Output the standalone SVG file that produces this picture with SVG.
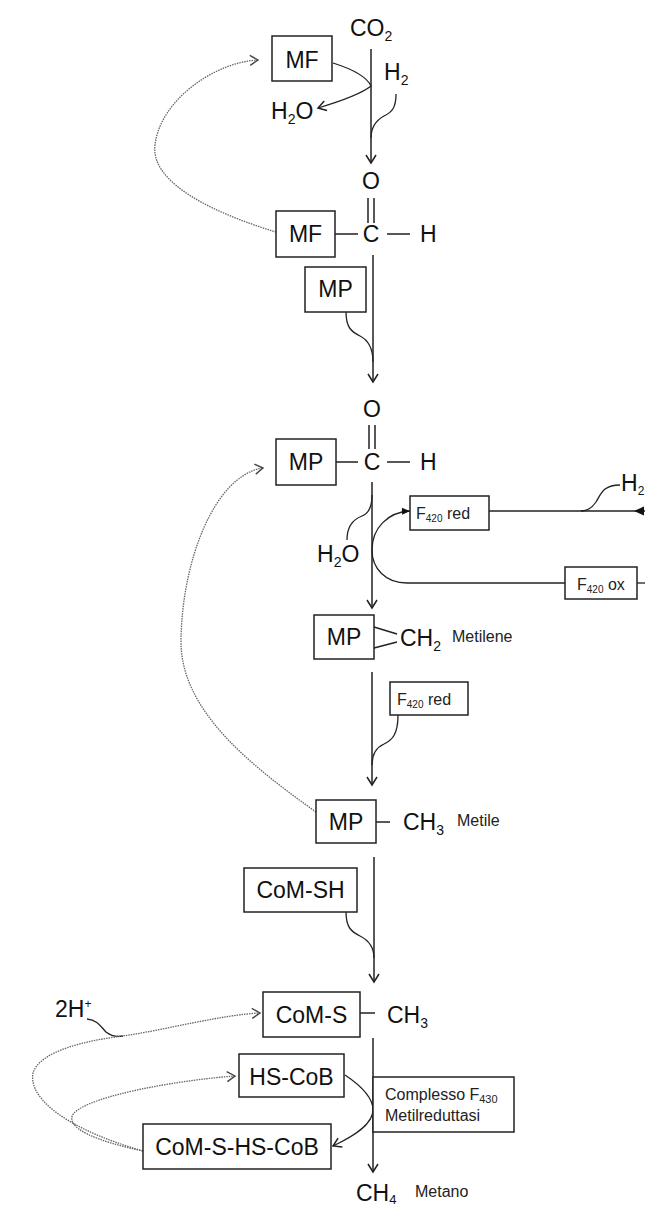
<svg xmlns="http://www.w3.org/2000/svg" width="645" height="1207" viewBox="0 0 645 1207">
<style>
.bx{fill:#fff;stroke:#222;stroke-width:1.5}
.ln{fill:none;stroke:#222;stroke-width:1.5}
.cv{fill:none;stroke:#222;stroke-width:1.3}
.dt{fill:none;stroke:#666;stroke-width:1.3;stroke-dasharray:1.5 1}
.t{font-family:"Liberation Sans",Arial,sans-serif;font-size:23px;fill:#111}
.s{font-family:"Liberation Sans",Arial,sans-serif;font-size:16px;fill:#222}
.m{text-anchor:middle}
</style>
<defs>
<marker id="op" markerUnits="userSpaceOnUse" markerWidth="14" markerHeight="14" refX="11" refY="7" orient="auto"><path d="M3,2 L11,7 L3,12" fill="none" stroke="#222" stroke-width="1.5"/></marker>
<marker id="og" markerUnits="userSpaceOnUse" markerWidth="14" markerHeight="14" refX="11" refY="7" orient="auto"><path d="M3,2 L11,7 L3,12" fill="none" stroke="#444" stroke-width="1.4"/></marker>
<marker id="fl" markerUnits="userSpaceOnUse" markerWidth="10" markerHeight="10" refX="9" refY="5" orient="auto"><path d="M1,1.5 L9,5 L1,8.5 Z" fill="#111"/></marker>
</defs>

<g id="connectors">
<!-- main vertical arrows -->
<path class="ln" d="M371,49 V163" marker-end="url(#op)"/>
<path class="ln" d="M373,255 V382" marker-end="url(#op)"/>
<path class="ln" d="M372,482 V608" marker-end="url(#op)"/>
<path class="ln" d="M372,672 V785" marker-end="url(#op)"/>
<path class="ln" d="M374,857 V982" marker-end="url(#op)"/>
<path class="ln" d="M373,1038 V1172" marker-end="url(#op)"/>
<!-- side curves -->
<path class="cv" d="M333,63 C352,69 367,77 371,86 C360,95 338,102 318,108" marker-end="url(#op)"/>
<path class="cv" d="M396,94 C396,108 392,112 384,116 C375,121 371,128 371,138"/>
<path class="cv" d="M346,312 C346,328 352,332 360,336 C370,341 373,350 373,362"/>
<path class="cv" d="M347,540 C347,525 354,519 362,516 C370,513 372,505 372,495"/>
<path class="cv" d="M565,583 L407,583 C385,583 372,568 372,550 C372,528 388,512 410,511" marker-end="url(#fl)"/>
<path class="cv" d="M489,511 L645,511"/>
<path d="M634,511 L644,506.5 L644,515.5 Z" fill="#111"/>
<path class="cv" d="M620,485 C603,485 601,494 596,502 C592,508 587,511 581,511"/>
<path class="cv" d="M637,583 L645,583"/>
<path class="cv" d="M398,715 C398,735 392,740 384,744 C375,748 372,755 372,765"/>
<path class="cv" d="M346,912 C346,928 352,932 360,936 C370,941 374,948 374,958"/>
<path class="cv" d="M345,1075 C360,1085 373,1098 373,1110 C373,1125 352,1137 333,1146" marker-end="url(#op)"/>
<path class="cv" d="M87,1019 C98,1020 101,1027 106,1032 C111,1036 117,1037 123,1036"/>
<!-- dotted recycling curves -->
<path class="dt" d="M276,232 C220,215 150,185 155,145 C160,100 215,62 258,60" marker-end="url(#og)"/>
<path class="dt" d="M316,812 C250,765 180,710 181,640 C182,560 215,475 263,468" marker-end="url(#og)"/>
<path class="dt" d="M143,1151 C70,1130 28,1100 33,1073 C40,1050 90,1040 123,1036 C170,1029 220,1015 260,1013" marker-end="url(#og)"/>
<path class="dt" d="M143,1151 C100,1142 62,1128 74,1113 C92,1095 180,1080 235,1076" marker-end="url(#og)"/>
<!-- bonds -->
<path class="ln" d="M368,198 V223 M374,198 V223 M335,234 H358 M387,234 H410"/>
<path class="ln" d="M369,425 V449 M375,425 V449 M336,462 H358 M387,462 H410"/>
<path class="ln" d="M374,627 L397,634 M374,648 L397,642"/>
<path class="ln" d="M376,822 H390"/>
<path class="ln" d="M360,1013 H375"/>
</g>

<g id="co2"><text class="t" x="350" y="36">CO<tspan font-size="14" dy="5">2</tspan></text></g>
<g id="h2-top"><text class="t" x="384" y="80">H<tspan font-size="14" dy="5">2</tspan></text></g>
<g id="h2o-top"><text class="t" x="271" y="119">H<tspan font-size="14" dy="5">2</tspan><tspan dy="-5">O</tspan></text></g>
<g id="mf1"><rect class="bx" x="272" y="36" width="60" height="45"/><text class="t m" x="302" y="68">MF</text></g>

<g id="formyl"><text class="t m" x="371" y="189">O</text><text class="t m" x="371" y="242">C</text><text class="t" x="420" y="242">H</text></g>
<g id="mf2"><rect class="bx" x="276" y="211" width="59" height="46"/><text class="t m" x="305.5" y="242">MF</text></g>
<g id="mp1"><rect class="bx" x="305" y="267" width="61" height="45"/><text class="t m" x="335.5" y="297">MP</text></g>

<g id="formyl-mp"><text class="t m" x="372" y="417">O</text><text class="t m" x="372" y="470">C</text><text class="t" x="420" y="470">H</text></g>
<g id="mp2"><rect class="bx" x="276" y="439" width="60" height="46"/><text class="t m" x="306" y="470">MP</text></g>
<g id="h2o-mid"><text class="t" x="317" y="562">H<tspan font-size="14" dy="5">2</tspan><tspan dy="-5">O</tspan></text></g>
<g id="f420red1"><rect class="bx" x="410" y="496" width="79" height="34"/><text class="s" x="416" y="519">F<tspan font-size="10" dy="3">420</tspan><tspan dy="-3"> red</tspan></text></g>
<g id="f420ox"><rect class="bx" x="565" y="567" width="72" height="32"/><text class="s" x="577" y="590">F<tspan font-size="10" dy="3">420</tspan><tspan dy="-3"> ox</tspan></text></g>
<g id="h2-right"><text class="t" x="621" y="491" font-size="21">H<tspan font-size="12" dy="4">2</tspan></text></g>

<g id="mp3"><rect class="bx" x="314" y="615" width="60" height="44"/><text class="t m" x="344" y="645">MP</text><text class="t" x="400" y="646">CH<tspan font-size="14" dy="5">2</tspan></text><text class="s" x="452" y="642">Metilene</text></g>
<g id="f420red2"><rect class="bx" x="390" y="682" width="78" height="33"/><text class="s" x="397" y="705">F<tspan font-size="10" dy="3">420</tspan><tspan dy="-3"> red</tspan></text></g>

<g id="mp4"><rect class="bx" x="316" y="800" width="60" height="43"/><text class="t m" x="346" y="830">MP</text><text class="t" x="403" y="830">CH<tspan font-size="14" dy="5">3</tspan></text><text class="s" x="457" y="826">Metile</text></g>
<g id="comsh"><rect class="bx" x="244" y="868" width="113" height="44"/><text class="t m" x="300.5" y="898">CoM-SH</text></g>

<g id="h2plus"><text class="t" x="55" y="1017" font-size="21">2H<tspan font-size="12" dy="-9">+</tspan></text></g>
<g id="coms"><rect class="bx" x="263" y="992" width="97" height="45"/><text class="t m" x="311.5" y="1023">CoM-S</text><text class="t" x="387" y="1023">CH<tspan font-size="14" dy="5">3</tspan></text></g>
<g id="hscob"><rect class="bx" x="239" y="1054" width="105" height="43"/><text class="t m" x="291.5" y="1085">HS-CoB</text></g>
<g id="comshscob"><rect class="bx" x="143" y="1124" width="188" height="45"/><text class="t m" x="237" y="1155">CoM-S-HS-CoB</text></g>
<g id="complesso"><rect class="bx" x="373" y="1077" width="141" height="55"/><text class="s" x="385" y="1100">Complesso F<tspan font-size="11" dy="3">430</tspan></text><text class="s" x="385" y="1121">Metilreduttasi</text></g>
<g id="ch4"><text class="t" x="356" y="1201">CH<tspan font-size="13" dy="3">4</tspan></text><text class="s" x="415" y="1197">Metano</text></g>
</svg>
